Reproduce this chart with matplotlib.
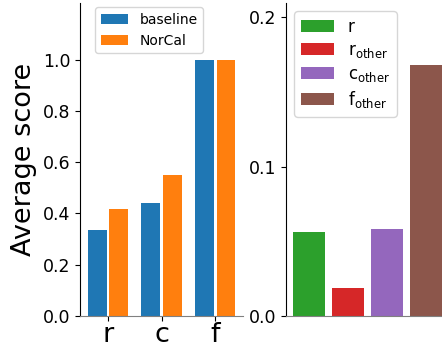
import numpy as np
import matplotlib.pyplot as plt

# left panel: average score per category
categories = ["r", "c", "f"]
baseline = [0.336, 0.441, 1.0]
norcal = [0.418, 0.551, 1.0]

# right panel
other_labels = ["r", r"r$_{\mathrm{other}}$", r"c$_{\mathrm{other}}$", r"f$_{\mathrm{other}}$"]
other_values = [0.056, 0.0188, 0.058, 0.168]
other_colors = ["tab:green", "tab:red", "tab:purple", "tab:brown"]

fig = plt.figure(figsize=(4.42, 3.5), dpi=100)
ax1 = fig.add_axes([0.181, 0.0971, 0.369, 0.894])
ax2 = fig.add_axes([0.647, 0.0971, 0.369, 0.894])

x = np.arange(len(categories))
ax1.bar(x - 0.2, baseline, width=0.35, color="tab:blue", label="baseline")
ax1.bar(x + 0.2, norcal, width=0.35, color="tab:orange", label="NorCal")
ax1.set_xticks(x)
ax1.set_xticklabels(categories, fontsize=19.5)
ax1.tick_params(axis="x", pad=0.5)
ax1.set_yticks([0.0, 0.2, 0.4, 0.6, 0.8, 1.0])
ax1.tick_params(axis="y", labelsize=12.5)
ax1.set_ylim(0, 1.22)
ax1.set_xlim(-0.52, 2.52)
ax1.set_ylabel("Average score", fontsize=19.5)
ax1.legend(loc="upper left", bbox_to_anchor=(0.092, 0.987), borderaxespad=0, fontsize=10)

for i in range(len(other_values)):
    ax2.bar(i, other_values[i], width=0.8, color=other_colors[i], label=other_labels[i])
ax2.set_xticks([])
ax2.set_ylim(0, 0.2095)
ax2.set_yticks([0.0, 0.1, 0.2])
ax2.tick_params(axis="y", labelsize=12.5)
ax2.legend(loc="upper left", fontsize=12, labelspacing=0.3)

for ax in (ax1, ax2):
    ax.spines["top"].set_visible(False)
    ax.spines["right"].set_visible(False)
    ax.spines["bottom"].set_color("gray")

fig.savefig("out.png", dpi=100)
